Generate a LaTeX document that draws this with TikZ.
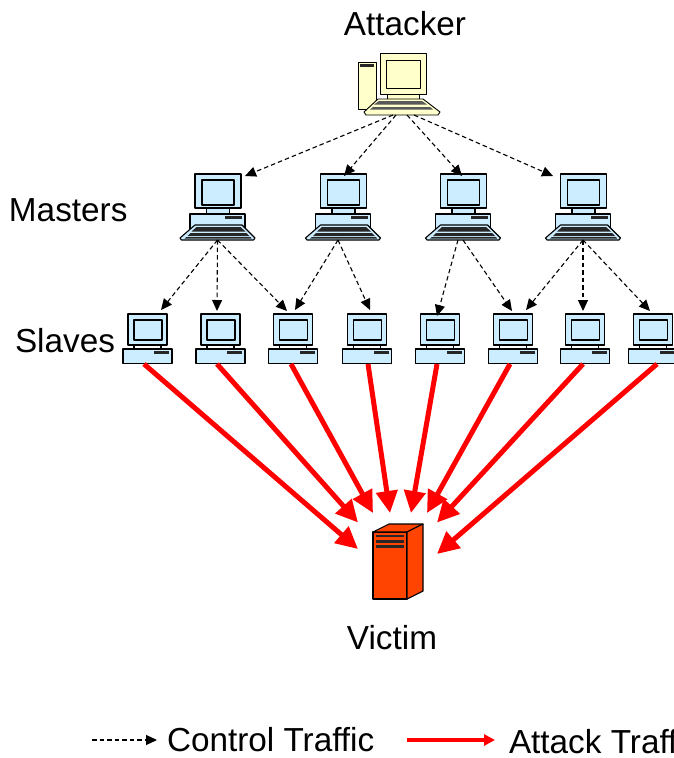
\documentclass[tikz,border=0pt]{standalone}
\usepackage{fontspec}
\setmainfont{Liberation Sans}
\usetikzlibrary{arrows.meta}
\definecolor{pcblue}{HTML}{CCECFF}
\definecolor{pcyellow}{HTML}{FFFFCC}
\definecolor{srv}{HTML}{FF4300}
\tikzset{
  hull/.style={draw=none,fill=none,inner sep=0pt,outer sep=0pt},
  body/.style={draw=black,line width=1.1pt,line join=round},
  lbl/.style={inner sep=0pt,outer sep=0pt,font=\fontsize{33.3}{33.3}\selectfont},
  ctrl/.style={draw=black,line width=1.1pt,dash pattern=on 4.5pt off 3pt,-{Triangle[length=11pt,width=10pt,fill=black]}},
  attack/.style={draw=red,line width=5pt,-{Triangle[length=22pt,width=21pt,fill=red]}},
  slavepc/.pic={
    \draw[body,fill=pcblue] (-19.5,-25) rectangle (19.5,6);
    \draw[body,fill=pcblue] (-13.5,-19) rectangle (14.5,1);
    \draw[line width=1.4pt] (-13.5,6) -- (-13.5,10) (13.5,6) -- (13.5,10);
    \draw[body,fill=pcblue] (-24.5,10) rectangle (24.5,24.5);
    \fill[black!85] (6.5,12) rectangle (21.5,14.5);
  },
  masterpc/.pic={
    \draw[body,fill=pcblue] (-22.5,-33) rectangle (23.5,1);
    \draw[body,fill=pcblue] (-15.5,-27) rectangle (16.5,-2);
    \draw[body,fill=pcblue] (-11,1) rectangle (12,7);
    \draw[body,fill=pcblue] (-27.5,7) rectangle (27.5,22);
    \fill[black!85] (7.5,9) rectangle (24.5,12);
    \draw[body,fill=pcblue] (-22.5,18) -- (24.5,18) -- (37.5,31) -- (36,33) -- (-36,33) -- (-37.5,31) -- cycle;
    \fill[black!85] (-21,20) -- (23,20) -- (28,24.5) -- (-26,24.5) -- cycle;
    \fill[black!85] (-27,26) -- (29,26) -- (32,29) -- (-30,29) -- cycle;
    \fill[black!85] (-31,30) -- (33,30) -- (34,31.5) -- (-33,31.5) -- cycle;
  },
  attackerpc/.pic={
    \draw[body,line width=0.9pt,fill=pcyellow] (-41,-22) rectangle (-23,25);
    \fill[black!85] (-39,-20) rectangle (-25,-17.5);
    \draw[body,line width=0.9pt,fill=pcyellow] (-19,-31) rectangle (27,10);
    \draw[body,line width=0.9pt,fill=pcyellow] (-13,-24) rectangle (21,4);
    \draw[body,line width=0.9pt,fill=pcyellow] (-12,10) rectangle (20,15);
    \draw[body,line width=0.9pt,fill=pcyellow] (-21,15) -- (24,15) -- (41,28) -- (39,31) -- (-33,31) -- (-35,28) -- cycle;
    \fill[black!65] (-20,17) -- (23,17) -- (28,20.5) -- (-25,20.5) -- cycle;
    \fill[black!65] (-26,23) -- (31,23) -- (34,25.5) -- (-29,25.5) -- cycle;
  },
}
\begin{document}
\begin{tikzpicture}[x=1pt,y=-1pt]
\useasboundingbox (0,0) rectangle (674,758);
% computers
\node[hull,minimum width=82pt,minimum height=62pt] (a) at (399,84) {};
\pic at (a) {attackerpc};
\foreach \n/\x in {m1/217.5,m2/343,m3/463,m4/583}{
  \node[hull,minimum width=75pt,minimum height=66pt] (\n) at (\x,207) {};
  \pic at (\n) {masterpc};
}
\foreach \n/\x in {s1/147.5,s2/220.5,s3/293,s4/367,s5/440,s6/513,s7/585,s8/653}{
  \node[hull,minimum width=49pt,minimum height=50pt] (\n) at (\x,339) {};
  \pic at (\n) {slavepc};
}
% victim
\node[hull,minimum width=50pt,minimum height=75pt] (v) at (398,561.5) {};
\draw[body,fill=srv] (373,532) rectangle (407,599);
\draw[body,fill=srv] (373,532) -- (389,524) -- (423,524) -- (407,532) -- cycle;
\draw[body,fill=srv] (407,532) -- (423,524) -- (423,591) -- (407,599) -- cycle;
\fill[black!85] (376,534.5) rectangle (404,537);
\fill[black!85] (376,540) rectangle (404,542.5);
\fill[black!85] (376,545) rectangle (404,547.5);
% labels
\node[lbl] (tA) at (405,24) {Attacker};
\node[lbl,anchor=west] (tM) at (9,210) {Masters};
\node[lbl,anchor=west] (tS) at (15,341) {Slaves};
\node[lbl] (tV) at (392,638) {Victim};
\node[lbl,anchor=west] (tC) at (167,740) {Control Traffic};
\node[lbl,anchor=west] (tT) at (509,742) {Attack Traffic};
% control traffic
\draw[ctrl] ([xshift=-6pt]a.south) -- ([shift={(27.5,2)}]m1.north);
\draw[ctrl] ([xshift=-3pt]a.south) -- ([shift={(1,2)}]m2.north);
\draw[ctrl] ([xshift=8pt]a.south)  -- ([shift={(-1,2)}]m3.north);
\draw[ctrl] ([xshift=15pt]a.south) -- ([shift={(-30,2)}]m4.north);
\draw[ctrl] (m1.south) -- ([shift={(13.5,-4)}]s1.north);
\draw[ctrl] (m1.south) -- ([shift={(-3.5,-3)}]s2.north);
\draw[ctrl] (m1.south) -- ([shift={(-6,-3)}]s3.north);
\draw[ctrl] ([xshift=-5pt]m2.south) -- ([shift={(2,-4)}]s3.north);
\draw[ctrl] ([xshift=-5pt]m2.south) -- ([shift={(3,-4)}]s4.north);
\draw[ctrl] ([xshift=-5pt]m3.south) -- ([shift={(-3,2)}]s5.north);
\draw[ctrl] ([xshift=0pt]m3.south) -- ([shift={(-1,-3)}]s6.north);
\draw[ctrl] (m4.south) -- ([shift={(13,-4)}]s6.north);
\draw[ctrl] (m4.south) -- ([shift={(-2,-3)}]s7.north);
\draw[ctrl] (m4.south) -- ([shift={(-3,-3)}]s8.north);
% attack traffic
\draw[attack] ([xshift=-3.5pt]s1.south) -- ([shift={(-15,-12.5)}]v.west);
\draw[attack] ([xshift=-3.5pt]s2.south) -- ([shift={(-40,-1.5)}]v.north);
\draw[attack] ([xshift=-2pt]s3.south) -- ([shift={(-25,-11)}]v.north);
\draw[attack] ([xshift=1pt]s4.south) -- ([shift={(-8,-11)}]v.north);
\draw[attack] ([xshift=-3pt]s5.south) -- ([shift={(13,-11)}]v.north);
\draw[attack] ([xshift=-3pt]s6.south) -- ([shift={(29,-11)}]v.north);
\draw[attack] ([xshift=-2pt]s7.south) -- ([shift={(39,-1.5)}]v.north);
\draw[attack] ([xshift=4pt]s8.south) -- ([shift={(14,-7.5)}]v.east);
% legend
\coordinate (l1) at (92,740);
\coordinate (l2) at (157,740);
\coordinate (l3) at (407,740);
\coordinate (l4) at (495,740);
\draw[ctrl] (l1) -- (l2);
\draw[draw=red,line width=3.4pt,-{Triangle[length=11pt,width=11pt,fill=red]}] (l3) -- (l4);
\end{tikzpicture}
\end{document}
